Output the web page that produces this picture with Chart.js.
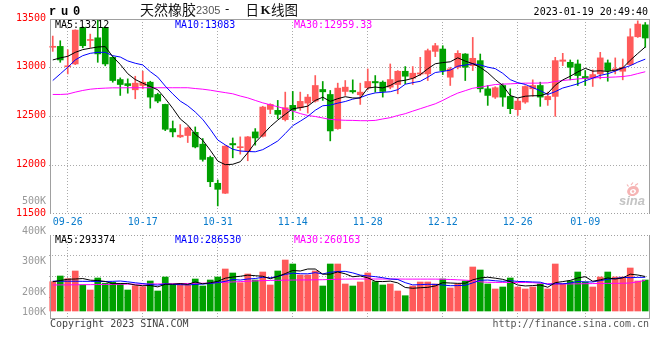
<!DOCTYPE html>
<html><head><meta charset="utf-8">
<script src="https://cdn.jsdelivr.net/npm/chart.js@4.4.1/dist/chart.umd.min.js"></script>
<style>
html,body{margin:0;padding:0;background:#fff;}
#wrap{position:relative;width:660px;height:360px;background:#fff;}
canvas{position:absolute;left:0;top:0;}
</style>
</head><body>
<div id="wrap"><canvas id="pc" width="660" height="360"></canvas><canvas id="vc" width="660" height="360"></canvas></div>
<script>
// ---------- data ----------
const dates = ['09-22','09-23','09-26','09-27','09-28','09-29','09-30','10-10','10-11','10-12',
 '10-13','10-14','10-17','10-18','10-19','10-20','10-21','10-24','10-25','10-26',
 '10-27','10-28','10-31','11-01','11-02','11-03','11-04','11-07','11-08','11-09',
 '11-10','11-11','11-14','11-15','11-16','11-17','11-18','11-21','11-22','11-23',
 '11-24','11-25','11-28','11-29','11-30','12-01','12-02','12-05','12-06','12-07',
 '12-08','12-09','12-12','12-13','12-14','12-15','12-16','12-19','12-20','12-21',
 '12-22','12-23','12-26','12-27','12-28','12-29','12-30','01-03','01-04','01-05',
 '01-06','01-09','01-10','01-11','01-12','01-13','01-16','01-17','01-18','01-19'];
const opens = [13210,13219,13010,13039,13413,13280,13307,13413,13107,12879,
 12837,12774,12818,12852,12726,12624,12376,12291,12305,12338,
 12216,12080,11815,11713,12223,12180,12145,12342,12298,12573,
 12563,12468,12614,12590,12637,12658,12777,12726,12376,12757,
 12767,12723,12795,12859,12852,12801,12828,12964,12893,12935,
 12937,13168,13192,12903,13005,13141,13022,13073,12784,12699,
 12818,12706,12570,12648,12784,12818,12672,12706,13066,13056,
 13039,12910,12896,12937,13050,12978,12964,13032,13318,13440];
const highs = [13325,13277,13185,13389,13420,13345,13490,13418,13114,12896,
 12886,12913,12964,12862,12739,12627,12454,12417,12393,12393,
 12274,12094,11849,12200,12280,12291,12295,12376,12605,12631,
 12665,12750,12757,12750,12726,12920,12859,12767,12842,12869,
 12876,12842,12988,12920,12865,13039,12971,13012,13012,13107,
 13192,13250,13226,13005,13175,13145,13311,13141,12818,12805,
 12835,12784,12682,12815,12876,12852,12750,13107,13148,13080,
 13080,12971,12978,13158,13080,13101,13090,13400,13481,13464];
const lows = [13168,13056,12937,13032,13205,13209,13056,13020,12852,12716,
 12739,12682,12784,12586,12641,12355,12291,12284,12233,12178,
 12042,11780,11583,11710,12076,12114,12046,12206,12290,12529,
 12478,12454,12468,12563,12535,12648,12665,12250,12369,12716,
 12739,12624,12774,12750,12699,12784,12733,12835,12828,12920,
 12869,13114,12930,12818,12988,12869,12971,12750,12614,12685,
 12604,12529,12512,12635,12706,12604,12614,12502,13022,12876,
 12818,12818,12808,12886,12862,12937,12876,13022,13311,13209];
const closes = [13220,13080,13020,13386,13226,13290,13142,13039,12869,12828,
 12817,12842,12852,12699,12658,12369,12342,12308,12383,12188,
 12060,11831,11753,12196,12209,12190,12291,12280,12597,12624,
 12522,12590,12563,12655,12699,12818,12753,12352,12791,12801,
 12753,12750,12859,12845,12757,12879,12964,12913,12944,12947,
 13175,13226,12971,12988,13148,13005,13097,12784,12716,12795,
 12699,12580,12658,12808,12818,12699,12706,13073,13080,13005,
 12920,12890,12930,13101,12971,12988,13005,13318,13448,13305];
const ma5 = [13080,13101,13117,13158,13186,13200,13213,13217,13113,13034,
 12939,12879,12842,12808,12774,12684,12584,12475,12412,12318,
 12256,12154,12043,12006,12010,12036,12128,12233,12313,12396,
 12463,12523,12579,12591,12606,12665,12698,12655,12683,12703,
 12690,12689,12791,12802,12793,12818,12861,12872,12891,12929,
 12989,13041,13053,13061,13102,13068,13042,13004,12950,12879,
 12818,12715,12690,12708,12713,12713,12738,12821,12875,12913,
 12957,12994,12965,12969,12962,12976,12999,13077,13146,13213];
const ma10 = [12869,12937,13005,13080,13124,13148,13158,13158,13124,13110,
 13070,13046,13029,12960,12904,12812,12732,12658,12610,12546,
 12470,12369,12259,12209,12164,12146,12141,12138,12160,12203,
 12249,12325,12406,12452,12501,12564,12610,12617,12637,12654,
 12678,12694,12723,12742,12748,12754,12775,12831,12847,12861,
 12903,12951,12962,12976,13016,13028,13041,13029,13006,12991,
 12943,12878,12847,12829,12796,12765,12726,12755,12792,12813,
 12835,12866,12893,12922,12938,12966,12996,13021,13058,13088];
const ma30 = [12726,12726,12730,12750,12767,12780,12787,12791,12794,12794,
 12795,12795,12795,12795,12795,12795,12795,12795,12795,12787,
 12780,12770,12757,12745,12733,12710,12691,12665,12640,12620,
 12600,12580,12555,12530,12510,12500,12485,12470,12465,12461,
 12460,12457,12457,12460,12475,12488,12510,12529,12555,12580,
 12605,12630,12665,12705,12740,12765,12790,12801,12815,12828,
 12832,12835,12839,12842,12842,12843,12845,12860,12869,12877,
 12885,12891,12896,12899,12902,12905,12910,12920,12940,12959];
const volumes = [249000,297500,274600,340000,221000,178500,280500,235500,244000,232000,
 178500,215000,206600,255000,170000,289000,221000,229500,221000,272000,
 212500,263500,289000,357000,323000,240600,314500,263500,331500,221000,
 340000,433500,399500,306000,306000,340000,212500,399500,399500,229500,
 212500,246500,323000,249000,221000,229500,170000,130000,212500,246500,
 246500,229500,272000,195500,229500,255000,374000,348500,229500,187000,
 204000,280500,204000,187000,204000,229500,187000,399500,229500,255000,
 331500,246500,204000,289000,331500,289000,289000,365500,255000,263500];
const volMa5 = [249000,259000,270000,272000,276000,262000,259000,251000,232000,234000,
 234000,221000,215000,217000,205000,227000,228000,233000,226000,247000,
 231000,240000,252000,279000,289000,295000,305000,300000,295000,274000,
 294000,318000,345000,340000,357000,357000,313000,313000,332000,316000,
 291000,298000,282000,252000,250000,254000,239000,200000,193000,198000,
 201000,213000,241000,238000,235000,236000,265000,281000,287000,279000,
 269000,250000,221000,213000,216000,221000,202000,241000,250000,260000,
 281000,292000,253000,265000,281000,272000,281000,313000,306000,293374];
const volMa10 = [253000,253000,253000,253000,252000,252000,251000,251000,252000,255000,
 248000,240000,233000,225000,220000,231000,225000,224000,222000,226000,
 229000,234000,242000,252000,268000,263000,272000,276000,287000,282000,
 294000,311000,322000,317000,316000,326000,315000,329000,336000,337000,
 324000,305000,298000,292000,283000,272000,268000,241000,222000,224000,
 227000,226000,221000,215000,216000,219000,239000,261000,263000,257000,
 252000,258000,251000,250000,247000,245000,226000,231000,231000,238000,
 251000,247000,247000,258000,270000,276000,286000,283000,286000,286530];
const volMa30 = [221000,222000,222000,223000,224000,224000,225000,226000,226000,227000,
 228000,228000,229000,230000,230000,231000,232000,233000,234000,235000,
 236000,238000,241000,244000,247000,250000,253000,256000,258000,260000,
 261000,262000,263000,264000,264000,265000,266000,268000,270000,271000,
 272000,272000,272000,272000,272000,272000,272000,271000,271000,271000,
 271000,271000,270000,268000,265000,262000,258000,248000,244000,243000,
 243000,242000,242000,242000,241000,236000,232000,231000,231000,230000,
 231000,232000,233000,234000,235000,235000,236000,238000,248000,260163];
const dateTicks = ['09-26','10-17','10-31','11-14','11-28','12-12','12-26','01-09'];
const priceTicks = [13500,13000,12500,12000,11500];
const priceGrid = [12000,12500,13000];
const volTickLabels = ['500K','400K','300K','200K','100K'];
const priceLegend = ['MA5:13212','MA10:13083','MA30:12959.33'];
const volLegend = ['MA5:293374','MA10:286530','MA30:260163'];

// ---------- style ----------
const UP = '#ff5a5a', DOWN = '#00a000';
const candleColors = closes.map((c,i)=> c >= opens[i] ? UP : DOWN);
const MONO = '"DejaVu Sans Mono", monospace';
const GRID = '#aaaaaa';

function text(c, s, x, y, color, font, align){
  c.font = font; c.fillStyle = color; c.textAlign = align || 'left'; c.textBaseline = 'alphabetic';
  c.fillText(s, x, y);
}
function hline(c, x1, x2, y, color, dash){
  c.save(); c.strokeStyle = color; c.lineWidth = 1; c.setLineDash(dash || []);
  c.beginPath(); c.moveTo(x1, y); c.lineTo(x2, y); c.stroke(); c.restore();
}
function vline(c, x, y1, y2, color, dash){
  c.save(); c.strokeStyle = color; c.lineWidth = 1; c.setLineDash(dash || []);
  c.beginPath(); c.moveTo(x, y1); c.lineTo(x, y2); c.stroke(); c.restore();
}

const xGridColor = (ctx) => (ctx.tick && dateTicks.includes(dates[ctx.tick.value])) ? GRID : 'rgba(0,0,0,0)';

function xScale(){
  return {
    type: 'category', offset: true,
    ticks: {display: false, autoSkip: false},
    grid: {offset: false, drawTicks: false, color: xGridColor, lineWidth: 1},
    border: {display: false, dash: [1,2]},
    afterFit: s => { s.height = 0; }
  };
}

const priceDeco = {
  id: 'priceDeco',
  afterDraw(chart){
    const c = chart.ctx, ca = chart.chartArea, xs = chart.scales.x, ys = chart.scales.y;
    c.save();
    // frame
    vline(c, ca.left + 1.5, ca.top, ca.bottom, '#a0a0a0');
    vline(c, ca.right + 0.5, ca.top, ca.bottom, '#a0a0a0');
    hline(c, ca.left + 1, ca.right + 1, ca.top + 0.5, '#a0a0a0');
    hline(c, ca.left + 1, ca.right + 1, ca.bottom - 0.5, '#a0a0a0', [1,2]);
    // y labels
    priceTicks.forEach(v => text(c, String(v), 46, ys.getPixelForValue(v) + 1.5, '#ff0000', '10px ' + MONO, 'right'));
    text(c, volTickLabels[0], 46, 204, '#999999', '10px ' + MONO, 'right');
    // x labels
    dateTicks.forEach(d => {
      const i = dates.indexOf(d);
      text(c, d, xs.getPixelForValue(i), 225, '#0a7ccc', '10px ' + MONO, 'center');
    });
    // legend
    text(c, priceLegend[0], 55, 28, '#000000', '10px ' + MONO);
    text(c, priceLegend[1], 175, 28, '#0000ff', '10px ' + MONO);
    text(c, priceLegend[2], 294, 28, '#ff00ff', '10px ' + MONO);
    // header
    const rf = 'bold 12px "Liberation Mono", monospace';
    text(c, 'r', 49, 15, '#000', rf); text(c, 'u', 61, 15, '#000', rf); text(c, '0', 73, 15, '#000', rf);
    c.textBaseline = 'middle';
    c.font = '14px "Noto Sans CJK SC"'; c.fillStyle = '#111'; c.textAlign = 'left';
    c.fillText('天然橡胶', 140, 9.5);
    c.font = '11px "Liberation Sans"'; c.fillStyle = '#555';
    c.textBaseline = 'alphabetic';
    c.fillText('2305', 196, 13.8);
    c.font = '12px "DejaVu Sans"'; c.fillStyle = '#111';
    c.fillText('-', 225, 13);
    c.textBaseline = 'middle';
    c.font = '13.5px "Noto Sans CJK SC"'; c.fillStyle = '#111';
    c.fillText('日', 245.5, 9.5);
    c.font = 'bold 13px "Liberation Serif"';
    c.textBaseline = 'alphabetic';
    c.fillText('K', 260.5, 14);
    c.textBaseline = 'middle';
    c.font = '13.5px "Noto Sans CJK SC"';
    c.fillText('线图', 271, 9.5);
    text(c, '2023-01-19 20:49:40', 648, 15, '#000', '10px ' + MONO, 'right');
    // sina watermark
    c.fillStyle = '#f6b4b4';
    c.beginPath(); c.ellipse(633, 191, 6, 5, -0.3, 0, Math.PI*2); c.fill();
    c.fillStyle = '#ffffff';
    c.beginPath(); c.ellipse(633, 191.5, 3, 2.3, -0.3, 0, Math.PI*2); c.fill();
    c.fillStyle = '#f6b4b4';
    c.beginPath(); c.arc(633, 191.5, 1.3, 0, Math.PI*2); c.fill();
    c.strokeStyle = '#f6b4b4'; c.lineWidth = 1.2;
    c.beginPath(); c.moveTo(631, 185); c.lineTo(633, 182.5); c.moveTo(635, 185.5); c.lineTo(638, 183.5); c.moveTo(628.5, 186.5); c.lineTo(627, 184.5); c.stroke();
    text(c, 'sina', 619, 205, '#c4c4c4', 'italic bold 13px "Liberation Sans"');
    c.restore();
  }
};

const volDeco = {
  id: 'volDeco',
  afterDraw(chart){
    const c = chart.ctx, ca = chart.chartArea;
    c.save();
    vline(c, ca.left + 1.5, ca.top, ca.bottom + 1, '#a0a0a0');
    vline(c, ca.right + 0.5, ca.top, ca.bottom + 1, '#a0a0a0');
    hline(c, ca.left + 1, ca.right + 1, ca.top + 0.5, '#a0a0a0', [1,2]);
    hline(c, ca.left + 1, ca.right + 1, ca.bottom + 0.5, '#a0a0a0');
    const f = '10px ' + MONO;
    text(c, volTickLabels[1], 46, 233.5, '#999999', f, 'right');
    text(c, volTickLabels[2], 46, 263.5, '#999999', f, 'right');
    text(c, volTickLabels[3], 46, 294.5, '#999999', f, 'right');
    text(c, volTickLabels[4], 46, 314.5, '#999999', f, 'right');
    text(c, volLegend[0], 55, 242.5, '#000000', f);
    text(c, volLegend[1], 175, 242.5, '#0000ff', f);
    text(c, volLegend[2], 294, 242.5, '#ff00ff', f);
    text(c, 'Copyright 2023 SINA.COM', 50, 326.5, '#444444', f);
    text(c, 'http://finance.sina.com.cn', 649, 326.5, '#555555', f, 'right');
    c.restore();
  }
};

const lineDs = (data, color) => ({type: 'line', data, borderColor: color, borderWidth: 1, pointRadius: 0, tension: 0, fill: false, order: 0});

new Chart(document.getElementById('pc'), {
  type: 'bar',
  data: {
    labels: dates,
    datasets: [
      lineDs(ma5, '#000000'),
      lineDs(ma10, '#0000ff'),
      lineDs(ma30, '#ff00ff'),
      {type: 'bar', data: opens.map((o,i)=>[o, closes[i]]), backgroundColor: candleColors, barThickness: 6, minBarLength: 1, grouped: false, order: 1, borderWidth: 0},
      {type: 'bar', data: lows.map((l,i)=>[l, highs[i]]), backgroundColor: candleColors, barThickness: 1, grouped: false, order: 2, borderWidth: 0}
    ]
  },
  options: {
    responsive: false, animation: false, devicePixelRatio: 1, events: [],
    layout: {padding: {left: 49, right: 11, top: 19, bottom: 146}},
    plugins: {legend: {display: false}, tooltip: {enabled: false}},
    scales: {
      x: xScale(),
      y: {
        min: 11500, max: 13500,
        afterBuildTicks: s => { s.ticks = priceGrid.map(v => ({value: v})); },
        ticks: {display: false},
        grid: {drawTicks: false, color: GRID},
        border: {display: false, dash: [1,2]},
        afterFit: s => { s.width = 0; }
      }
    }
  },
  plugins: [priceDeco]
});

new Chart(document.getElementById('vc'), {
  type: 'bar',
  data: {
    labels: dates,
    datasets: [
      lineDs(volMa5, '#000000'),
      lineDs(volMa10, '#0000ff'),
      lineDs(volMa30, '#ff00ff'),
      {type: 'bar', data: volumes, backgroundColor: candleColors, barThickness: 6, grouped: false, order: 1, borderWidth: 0}
    ]
  },
  options: {
    responsive: false, animation: false, devicePixelRatio: 1, events: [],
    layout: {padding: {left: 49, right: 11, top: 235, bottom: 42}},
    plugins: {legend: {display: false}, tooltip: {enabled: false}},
    scales: {
      x: xScale(),
      y: {
        min: -59500, max: 646000,
        afterBuildTicks: s => { const q = (s.max - s.min) / 4; s.ticks = [1,2,3].map(k => ({value: s.min + q*k})); },
        ticks: {display: false},
        grid: {drawTicks: false, color: GRID},
        border: {display: false, dash: [1,2]},
        afterFit: s => { s.width = 0; }
      }
    }
  },
  plugins: [volDeco]
});
</script>
</body></html>
